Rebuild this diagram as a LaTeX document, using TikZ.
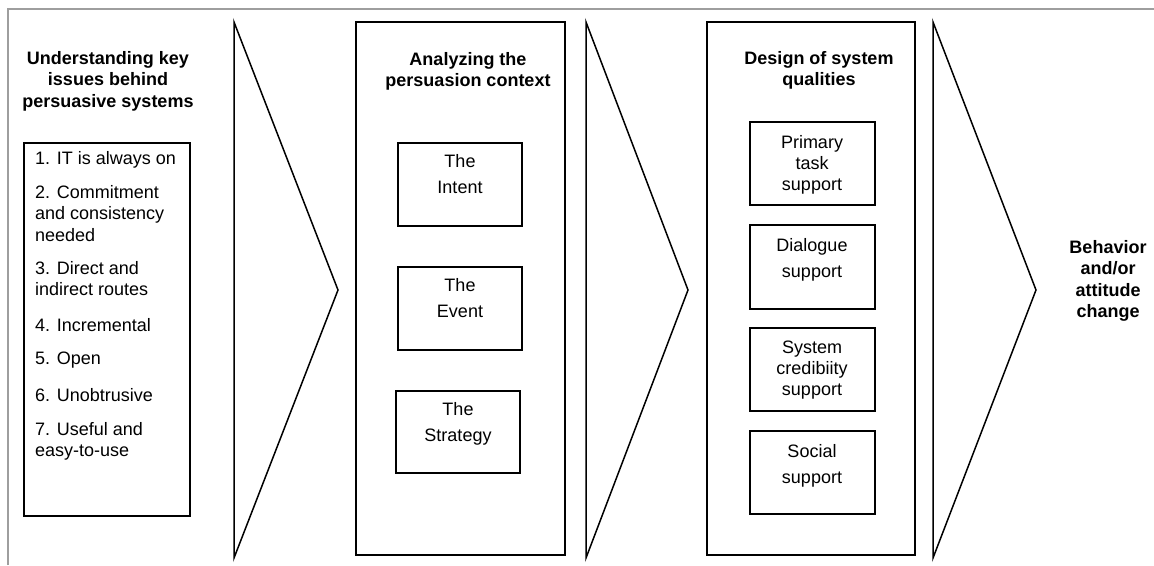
\documentclass[tikz,border=0pt]{standalone}
\usepackage{fontspec}
\setmainfont{Liberation Sans}
\begin{document}
\begin{tikzpicture}[x=1pt,y=-1pt,
  frame/.style={draw=black!38,line width=2pt},
  panel/.style={draw=black,line width=2.2pt},
  itembox/.style={draw=black,line width=2pt},
  chevron/.style={draw=black,line width=1.5pt,line join=miter},
  title/.style={font=\fontsize{18}{21.5}\selectfont\bfseries,align=center,anchor=north,inner sep=0pt},
  listitem/.style={font=\fontsize{18}{21.5}\selectfont,align=left,anchor=north west,inner sep=0pt},
  boxtext/.style={font=\fontsize{18}{26}\selectfont,align=center,anchor=north,inner sep=0pt},
  boxtextb/.style={font=\fontsize{18}{21}\selectfont,align=center,anchor=north,inner sep=0pt}]
\useasboundingbox (0,0) rectangle (1154,565);
\fill[white] (0,0) rectangle (1154,565);

% outer frame (top and left edges)
\draw[frame] (8,565) -- (8,9) -- (1154,9);

% stage 1: key issues
\node[title] (t1) at (108,51) {Understanding key\\issues behind\\persuasive systems};
\draw[itembox] (24,143) rectangle (190,516);
\node[listitem] (i1) at (35,151) {1. IT is always on};
\node[listitem] (i2) at (35,185) {2. Commitment\\and consistency\\needed};
\node[listitem] (i3) at (35,261) {3. Direct and\\indirect routes};
\node[listitem] (i4) at (35,318) {4. Incremental};
\node[listitem] (i5) at (35,352) {5. Open};
\node[listitem] (i6) at (35,388) {6. Unobtrusive};
\node[listitem] (i7) at (35,422) {7. Useful and\\easy-to-use};

% chevrons between stages
\draw[chevron] (234,558) -- (234,22) -- (338,290) -- cycle;
\draw[chevron] (586,558) -- (586,22) -- (688,290) -- cycle;
\draw[chevron] (933,558) -- (933,22) -- (1036,290) -- cycle;

% stage 2: persuasion context
\draw[panel] (356,22) rectangle (565,555);
\node[title] (t2) at (468,52) {Analyzing the\\persuasion context};
\draw[itembox] (398,143) rectangle (522,226);
\node[boxtext] (c1) at (460,154) {The\\Intent};
\draw[itembox] (398,267) rectangle (522,350);
\node[boxtext] (c2) at (460,278) {The\\Event};
\draw[itembox] (396,391) rectangle (520,473);
\node[boxtext] (c3) at (458,402) {The\\Strategy};

% stage 3: system qualities
\draw[panel] (707,22) rectangle (915,555);
\node[title] (t3) at (819,51) {Design of system\\qualities};
\draw[itembox] (750,122) rectangle (875,205);
\node[boxtextb] (q1) at (812,135) {Primary\\task\\support};
\draw[itembox] (750,225) rectangle (875,309);
\node[boxtext] (q2) at (812,238) {Dialogue\\support};
\draw[itembox] (750,328) rectangle (875,411);
\node[boxtextb] (q3) at (812,341) {System\\credibiity\\support};
\draw[itembox] (750,431) rectangle (875,514);
\node[boxtext] (q4) at (812,444) {Social\\support};

% outcome
\node[title] (t4) at (1108,240) {Behavior\\and/or\\attitude\\change};
\end{tikzpicture}
\end{document}
